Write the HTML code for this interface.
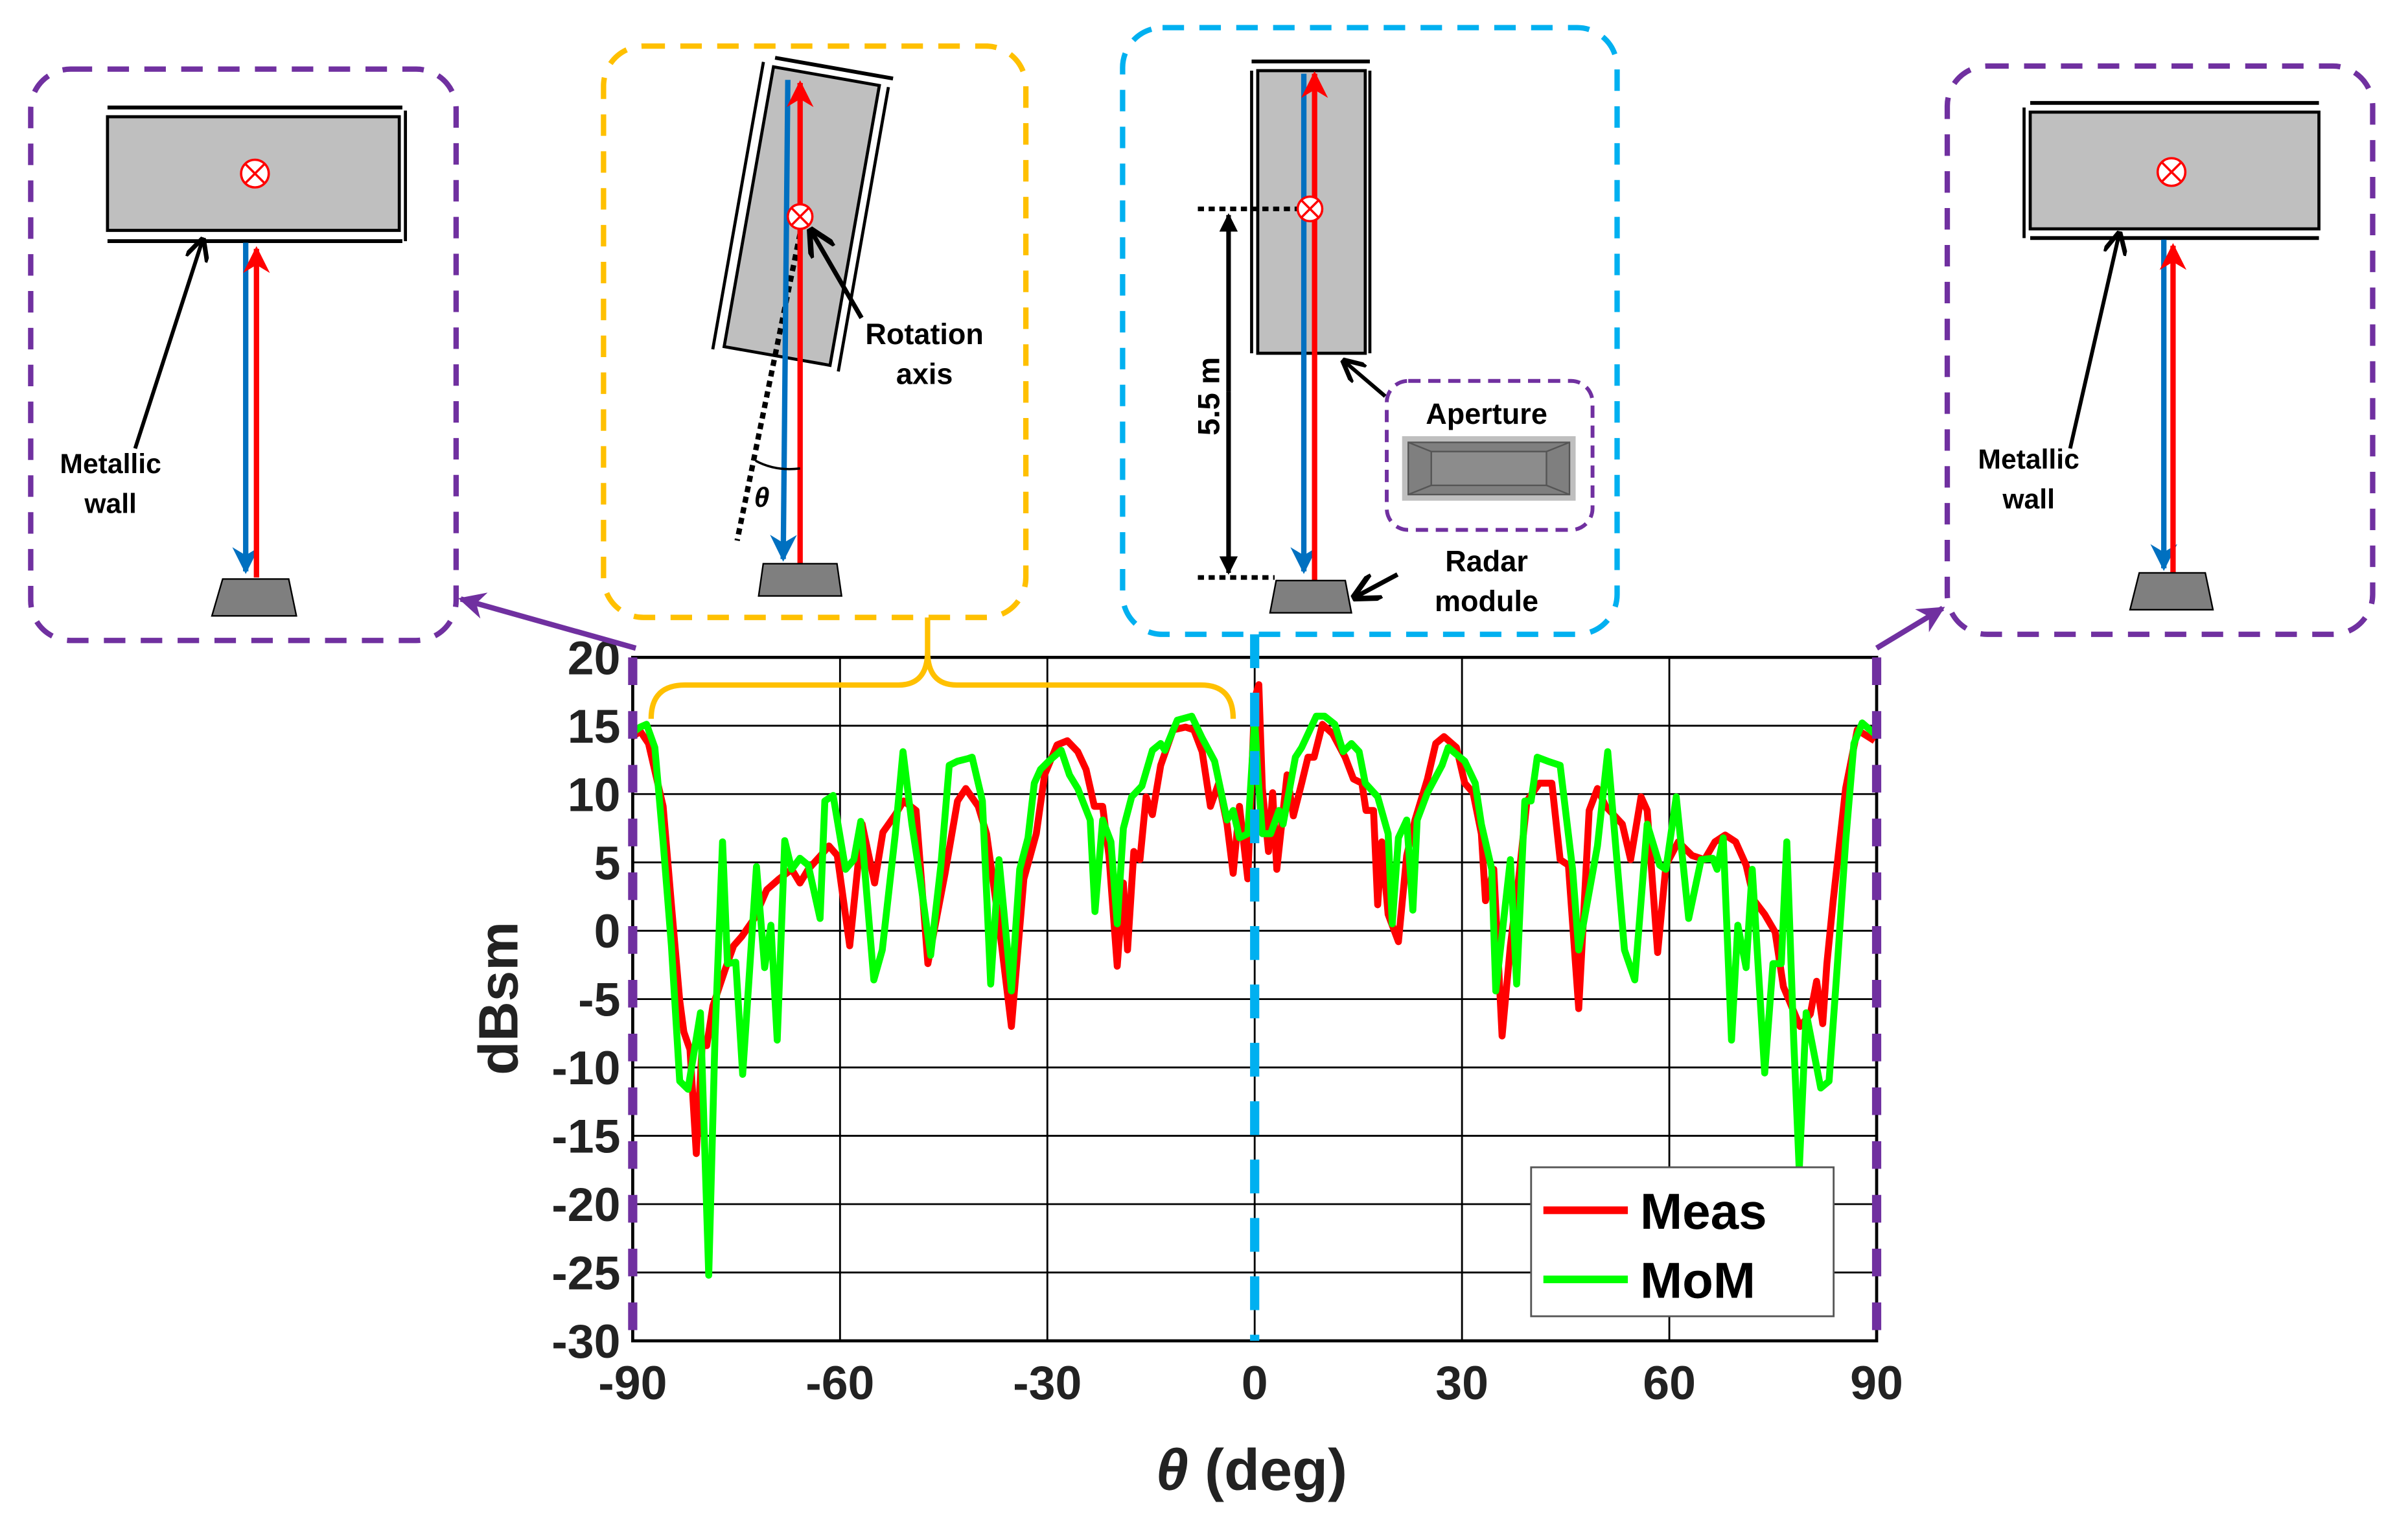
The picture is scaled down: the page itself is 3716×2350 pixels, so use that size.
<!DOCTYPE html>
<html><head><meta charset="utf-8"><style>
html,body{margin:0;padding:0;background:#fff;}
svg{display:block;}
text{font-family:"Liberation Sans",Arial,sans-serif;font-weight:bold;}
</style></head><body>
<svg id="fig" width="3716" height="2350" viewBox="0 0 1568 991.6" xmlns="http://www.w3.org/2000/svg">
<defs>
<marker id="ar" viewBox="0 0 10 10" refX="9" refY="5" markerWidth="5" markerHeight="5" orient="auto"><path d="M0,0 L10,5 L0,10 L3,5Z" fill="#ff0000"/></marker>
<marker id="ab" viewBox="0 0 10 10" refX="9" refY="5" markerWidth="5" markerHeight="5" orient="auto"><path d="M0,0 L10,5 L0,10 L3,5Z" fill="#0070c0"/></marker>
<marker id="ak" viewBox="0 0 10 10" refX="9" refY="5" markerWidth="6" markerHeight="6" orient="auto"><path d="M0,0 L10,5 L0,10" fill="none" stroke="#000" stroke-width="2"/></marker>
<marker id="akf" viewBox="0 0 10 10" refX="9" refY="5" markerWidth="4" markerHeight="4" orient="auto"><path d="M0,0 L10,5 L0,10Z" fill="#000"/></marker>
<marker id="ap" viewBox="0 0 10 10" refX="9" refY="5" markerWidth="5" markerHeight="5" orient="auto"><path d="M0,0 L10,5 L0,10 L3,5Z" fill="#7030a0"/></marker>
</defs>

<!-- Left inset -->
<g>
<rect x="20" y="45" width="277" height="372" rx="26" fill="none" stroke="#7030a0" stroke-width="3.5" stroke-dasharray="14 10"/>
<rect x="70" y="76" width="190" height="74" fill="#bfbfbf" stroke="#000" stroke-width="2"/>
<line x1="70" y1="70" x2="262" y2="70" stroke="#000" stroke-width="2.5"/>
<line x1="70" y1="157" x2="262" y2="157" stroke="#000" stroke-width="2.5"/>
<line x1="264" y1="72" x2="264" y2="157" stroke="#000" stroke-width="2"/>
<circle cx="166" cy="113" r="9" fill="#fff" stroke="#ff0000" stroke-width="1.5"/>
<path d="M160,107 L172,119 M172,107 L160,119" stroke="#ff0000" stroke-width="1.5"/>
<line x1="160" y1="158" x2="160" y2="372" stroke="#0070c0" stroke-width="3.5" marker-end="url(#ab)"/>
<line x1="167" y1="376" x2="167" y2="162" stroke="#ff0000" stroke-width="3.5" marker-end="url(#ar)"/>
<path d="M145,377 L188,377 L193,401 L138,401Z" fill="#7f7f7f" stroke="#000" stroke-width="1"/>
<line x1="88" y1="292" x2="132" y2="156" stroke="#000" stroke-width="2.5" marker-end="url(#ak)"/>
<text x="72" y="308" font-size="18" text-anchor="middle">Metallic</text>
<text x="72" y="334" font-size="18" text-anchor="middle">wall</text>
</g>

<!-- Yellow inset -->
<g>
<rect x="393" y="30" width="275" height="372" rx="26" fill="none" stroke="#ffc000" stroke-width="3.5" stroke-dasharray="14 10"/>
<g transform="rotate(10 521 141)">
<rect x="487" y="48" width="70" height="185" fill="#bfbfbf" stroke="#000" stroke-width="2"/>
<line x1="480" y1="46" x2="480" y2="236" stroke="#000" stroke-width="2"/>
<line x1="487" y1="42" x2="565" y2="42" stroke="#000" stroke-width="2.5"/>
<line x1="563" y1="48" x2="563" y2="236" stroke="#000" stroke-width="2"/>
</g>
<line x1="521" y1="152" x2="480" y2="352" stroke="#000" stroke-width="3.5" stroke-dasharray="4 3"/>
<line x1="513" y1="52" x2="510" y2="364" stroke="#0070c0" stroke-width="3.5" marker-end="url(#ab)"/>
<line x1="521" y1="368" x2="521" y2="54" stroke="#ff0000" stroke-width="3.5" marker-end="url(#ar)"/>
<circle cx="521" cy="141" r="8" fill="#fff" stroke="#ff0000" stroke-width="1.5"/>
<path d="M515.5,135.5 L526.5,146.5 M526.5,135.5 L515.5,146.5" stroke="#ff0000" stroke-width="1.5"/>
<path d="M492,300 Q505,307 521,305" fill="none" stroke="#000" stroke-width="1.5"/>
<text x="496" y="330" font-size="18" font-style="italic" font-weight="normal" font-family="Liberation Serif,serif" text-anchor="middle">θ</text>
<path d="M497,367 L545,367 L548,388 L494,388Z" fill="#7f7f7f" stroke="#000" stroke-width="1"/>
<line x1="561" y1="207" x2="528" y2="150" stroke="#000" stroke-width="3" marker-end="url(#ak)"/>
<text x="602" y="224" font-size="19" text-anchor="middle">Rotation</text>
<text x="602" y="250" font-size="19" text-anchor="middle">axis</text>
</g>

<!-- Blue inset -->
<g>
<rect x="731" y="18" width="322" height="395" rx="26" fill="none" stroke="#00b0f0" stroke-width="3.5" stroke-dasharray="14 10"/>
<rect x="819" y="46" width="70" height="184" fill="#bfbfbf" stroke="#000" stroke-width="2"/>
<line x1="815" y1="46" x2="815" y2="230" stroke="#000" stroke-width="2"/>
<line x1="892" y1="46" x2="892" y2="230" stroke="#000" stroke-width="2"/>
<line x1="815" y1="40" x2="892" y2="40" stroke="#000" stroke-width="2.5"/>
<line x1="780" y1="136" x2="846" y2="136" stroke="#000" stroke-width="3" stroke-dasharray="4 3"/>
<line x1="780" y1="376" x2="830" y2="376" stroke="#000" stroke-width="3" stroke-dasharray="4 3"/>
<line x1="800" y1="255" x2="800" y2="140" stroke="#000" stroke-width="3" marker-end="url(#akf)"/>
<line x1="800" y1="255" x2="800" y2="373" stroke="#000" stroke-width="3" marker-end="url(#akf)"/>
<text transform="translate(794,258) rotate(-90)" font-size="20" text-anchor="middle">5.5 m</text>
<line x1="849" y1="48" x2="849" y2="372" stroke="#0070c0" stroke-width="3.5" marker-end="url(#ab)"/>
<line x1="856" y1="378" x2="856" y2="48" stroke="#ff0000" stroke-width="3.5" marker-end="url(#ar)"/>
<circle cx="853" cy="136" r="8" fill="#fff" stroke="#ff0000" stroke-width="1.5"/>
<path d="M847.5,130.5 L858.5,141.5 M858.5,130.5 L847.5,141.5" stroke="#ff0000" stroke-width="1.5"/>
<path d="M831,378 L876,378 L880,399 L827,399Z" fill="#7f7f7f" stroke="#000" stroke-width="1"/>
<rect x="903" y="248" width="134" height="97" rx="14" fill="none" stroke="#7030a0" stroke-width="2.5" stroke-dasharray="8 5"/>
<text x="968" y="276" font-size="19" text-anchor="middle">Aperture</text>
<rect x="913" y="284" width="113" height="42" fill="#bfbfbf"/>
<rect x="917" y="288" width="105" height="34" fill="#7f7f7f" stroke="#555" stroke-width="1"/>
<rect x="932" y="294" width="75" height="22" fill="#8c8c8c" stroke="#555" stroke-width="1"/>
<path d="M917,288 L932,294 M1022,288 L1007,294 M917,322 L932,316 M1022,322 L1007,316" stroke="#555" stroke-width="1"/>
<line x1="902" y1="258" x2="875" y2="235" stroke="#000" stroke-width="2.5" marker-end="url(#ak)"/>
<line x1="910" y1="374" x2="882" y2="389" stroke="#000" stroke-width="3" marker-end="url(#ak)"/>
<text x="968" y="372" font-size="19" text-anchor="middle">Radar</text>
<text x="968" y="398" font-size="19" text-anchor="middle">module</text>
</g>

<!-- Right inset -->
<g>
<rect x="1268" y="43" width="277" height="370" rx="26" fill="none" stroke="#7030a0" stroke-width="3.5" stroke-dasharray="14 10"/>
<rect x="1322" y="73" width="188" height="76" fill="#bfbfbf" stroke="#000" stroke-width="2"/>
<line x1="1322" y1="67" x2="1510" y2="67" stroke="#000" stroke-width="2.5"/>
<line x1="1322" y1="155" x2="1510" y2="155" stroke="#000" stroke-width="2.5"/>
<line x1="1318" y1="70" x2="1318" y2="155" stroke="#000" stroke-width="2"/>
<circle cx="1414" cy="112" r="9" fill="#fff" stroke="#ff0000" stroke-width="1.5"/>
<path d="M1408,106 L1420,118 M1420,106 L1408,118" stroke="#ff0000" stroke-width="1.5"/>
<line x1="1409" y1="156" x2="1409" y2="370" stroke="#0070c0" stroke-width="3.5" marker-end="url(#ab)"/>
<line x1="1415" y1="374" x2="1415" y2="160" stroke="#ff0000" stroke-width="3.5" marker-end="url(#ar)"/>
<path d="M1393,373 L1436,373 L1441,397 L1387,397Z" fill="#7f7f7f" stroke="#000" stroke-width="1"/>
<line x1="1348" y1="292" x2="1380" y2="152" stroke="#000" stroke-width="2.5" marker-end="url(#ak)"/>
<text x="1321" y="305" font-size="18" text-anchor="middle">Metallic</text>
<text x="1321" y="331" font-size="18" text-anchor="middle">wall</text>
</g>

<g id="chart"></g>

<path d="M424,468 Q424,446 446,446 L585,446 Q604,446 604,424 L604,402 M604,424 Q604,446 623,446 L782,446 Q803,446 803,468" fill="none" stroke="#ffc000" stroke-width="3.5"/>
<line x1="414" y1="422" x2="300" y2="390" stroke="#7030a0" stroke-width="3.5" marker-end="url(#ap)"/>
<line x1="1222" y1="422" x2="1265" y2="396" stroke="#7030a0" stroke-width="3.5" marker-end="url(#ap)"/>
</svg>
<script>
const xTicks = [-90, -60, -30, 0, 30, 60, 90];
const yTicks = [20, 15, 10, 5, 0, -5, -10, -15, -20, -25, -30];
const measTheta = [-90,-88.9,-87.7,-85.6,-84.4,-83.2,-82.6,-81.7,-80.8,-79.9,-79.3,-78.4,-76.6,-75.4,-74.2,-72.4,-70.6,-68.8,-67,-65.8,-64.6,-62.8,-61.6,-60.4,-58.6,-56.8,-55,-53.8,-52,-50.8,-49,-47.3,-44.8,-43,-41.8,-40,-38.8,-37,-35.2,-33.4,-31.6,-30.4,-28.6,-27.1,-25.6,-24.4,-23.2,-22,-21.1,-19.9,-19,-18.4,-17.5,-16.6,-15.7,-14.8,-13.6,-11.8,-10,-8.8,-7.6,-6.4,-5.2,-4,-3.1,-2.2,-1,0,0.6,1.1,2,2.6,3.2,4.7,5.6,6.8,7.7,8.6,9.8,11.3,13.1,14.3,15.5,16.1,17.2,17.8,18.4,19.3,20.8,22,23.2,25,26.2,27.4,29.2,30.4,31.6,32.8,33.4,34.6,35.8,37,38.2,39.4,41.2,43,44.2,45.4,46.9,48.4,49.6,50.8,53.2,54.4,55.9,56.8,58.3,59.5,61.3,63.3,65.1,66.6,68.1,69.6,71.1,72.3,73.8,75.3,76.5,78.9,80.4,81.3,82.2,82.8,83.7,85.5,87.2,89.7];
const measVal = [14.2,14.6,13.7,9.1,1.9,-5.1,-7.4,-8.7,-16.3,-8,-8.4,-5.5,-2.8,-1.1,-0.4,0.9,3,3.8,4.5,3.5,4.5,5.5,6.2,5.5,-1.1,7.8,3.5,7.2,8.5,9.5,8.8,-2.4,4.2,9.5,10.4,9.1,7.1,0.5,-7,3.8,7.1,11.4,13.6,13.9,13.1,11.8,9.1,9.1,5.5,-2.6,3.5,-1.4,5.8,5.2,9.8,8.5,12.1,14.7,14.9,14.7,13.1,9.1,10.8,7.8,4.2,9.1,3.8,17,18,10.4,5.8,10.1,4.5,11.4,8.4,10.8,12.7,12.7,15.1,14.4,12.7,11.1,10.8,8.8,8.8,1.9,6.5,1.2,-0.8,5.5,8.1,11.1,13.7,14.2,13.4,10.8,10.1,7.1,2.2,4.5,-7.7,-1.1,3.8,9.5,10.8,10.8,5.2,4.8,-5.7,8.8,10.4,9.1,7.8,5.2,9.8,8.8,-1.6,4.8,6.5,5.5,5.2,6.5,7,6.5,4.8,2.2,1.2,-0.1,-4.1,-7,-6.1,-3.7,-6.8,-2.4,2.2,10.4,14.7,13.9];
const momTheta = [-90,-88.9,-88,-86.8,-85.6,-84.4,-83.2,-82,-80.2,-79,-78.1,-77,-76.3,-75.1,-74.1,-72.1,-70.9,-70,-69.1,-68,-67,-65.8,-64.6,-62.9,-62.2,-61,-59.2,-58,-57,-55.1,-53.9,-52,-50.9,-49.6,-48.4,-46.9,-45.4,-44.2,-43,-41.5,-40.9,-39.4,-38.2,-37,-35.2,-34,-32.8,-31.9,-31,-29.8,-28,-26.8,-25.6,-23.8,-23.1,-22,-20.8,-19.9,-19,-17.8,-16.3,-14.8,-13.6,-13,-11.2,-9.1,-7.6,-5.8,-4,-3.1,-2.2,-1,0,0.5,1.1,2.3,3.5,4.1,5.9,6.8,8.9,10.1,11.6,12.8,14,15.1,16,17.8,19.3,19.9,20.8,22,22.9,23.5,25,27.1,28,30.4,31.9,32.8,34.3,34.9,37,37.9,39.1,40,40.9,42.4,44.2,46,46.9,49.6,51.1,53.5,55,56.8,58.6,59.5,61,62.8,64.6,66.3,66.9,67.8,69,69.9,71.1,72,73.8,75,76.2,77,78,78.8,79.8,81.9,83.1,84.3,85.5,86.7,87.9,89.7];
const momVal = [14.5,14.9,15.1,13.4,6.5,-1.1,-11,-11.6,-6,-25.2,-7.7,6.5,-2.4,-2.3,-10.5,4.7,-2.7,0.4,-8,6.6,4.5,5.3,4.8,0.9,9.5,9.9,4.5,5.2,8,-3.6,-1.4,7.1,13.1,7.8,3.8,-1.8,4.8,12.1,12.4,12.6,12.7,9.5,-3.9,5.2,-4.4,4.5,6.8,10.8,11.8,12.4,13.2,11.4,10.4,8.1,1.4,8.1,6.5,0.5,7.5,9.8,10.6,13.2,13.7,13.2,15.4,15.7,14.1,12.4,8.1,8.8,6.8,7.1,15.4,11.1,7.1,7.1,8.8,7.8,12.7,13.4,15.7,15.7,15.1,13.1,13.7,13.1,10.8,9.8,7.1,0.5,6.8,8.1,1.5,8.1,10.1,12.1,13.4,12.4,10.8,7.8,4.5,-4.4,5.2,-3.9,9.5,9.5,12.7,12.4,12.1,4.5,-1.4,6.2,13.1,-1.4,-3.6,7.8,4.8,4.5,9.8,0.9,5.2,5.3,4.5,6.8,-8,0.4,-2.7,4.5,-10.4,-2.4,-2.4,6.5,-8,-17.5,-6,-11.5,-11,-2.7,6.5,13.7,15.2,14.4];

const X0 = 412, X1 = 1222, Y0 = 428, Y1 = 873;
const NS = 'http://www.w3.org/2000/svg';
function xs(d){ return X0 + (d + 90) / 180 * (X1 - X0); }
function ys(v){ return Y0 + (20 - v) / 50 * (Y1 - Y0); }
const g = document.getElementById('chart');
function mk(tag, attrs){ const e = document.createElementNS(NS, tag); for (const k in attrs) e.setAttribute(k, attrs[k]); g.appendChild(e); return e; }

const bg = mk('rect', {x: X0, y: Y0, width: X1 - X0, height: Y1 - Y0, fill: '#fff'});


yTicks.forEach(v => {
  const l = mk('line', {x1: X0, x2: X1, y1: ys(v), y2: ys(v), stroke: '#000', 'stroke-width': 1.2});
  
  
  const t = mk('text', {x: X0 - 8, y: ys(v) + 11, 'font-size': 31, 'text-anchor': 'end', fill: '#222'});
  t.textContent = v;
  
  
});
xTicks.forEach(d => {
  const l = mk('line', {x1: xs(d), x2: xs(d), y1: Y0, y2: Y1, stroke: '#000', 'stroke-width': 1.2});
  
  
  const t = mk('text', {x: xs(d), y: Y1 + 38, 'font-size': 31, 'text-anchor': 'middle', fill: '#222'});
  t.textContent = d;
  
  
});
const fr = mk('rect', {x: X0, y: Y0, width: X1 - X0, height: Y1 - Y0, fill: 'none', stroke: '#000', 'stroke-width': 2});



function series(th, vals, color, name){
  const p = mk('polyline', {points: th.map((d, i) => xs(d).toFixed(1) + ',' + ys(vals[i]).toFixed(1)).join(' '), fill: 'none', stroke: color, 'stroke-width': 4.5, 'stroke-linejoin': 'round'});
  
  
}
series(measTheta, measVal, '#ff0000', 'meas-line');
series(momTheta, momVal, '#00ff00', 'mom-line');

const dl = mk('line', {x1: X0, x2: X0, y1: Y0, y2: Y1, stroke: '#7030a0', 'stroke-width': 6, 'stroke-dasharray': '18 17'});


const dr = mk('line', {x1: X1, x2: X1, y1: Y0, y2: Y1, stroke: '#7030a0', 'stroke-width': 6, 'stroke-dasharray': '18 17'});


const dc = mk('line', {x1: xs(0), x2: xs(0), y1: 413, y2: Y1, stroke: '#00b0f0', 'stroke-width': 6, 'stroke-dasharray': '22 16'});



const lb = mk('rect', {x: 997, y: 760, width: 197, height: 97, fill: '#fff', stroke: '#555', 'stroke-width': 1.2});


const l1 = mk('line', {x1: 1005, x2: 1060, y1: 788, y2: 788, stroke: '#ff0000', 'stroke-width': 5});


const t1 = mk('text', {x: 1068, y: 800, 'font-size': 33});
t1.textContent = 'Meas';


const l2 = mk('line', {x1: 1005, x2: 1060, y1: 833, y2: 833, stroke: '#00ff00', 'stroke-width': 5});


const t2 = mk('text', {x: 1068, y: 845, 'font-size': 33});
t2.textContent = 'MoM';



const yl = mk('text', {transform: 'translate(337,650) rotate(-90)', 'font-size': 36, 'text-anchor': 'middle', fill: '#222'});
yl.textContent = 'dBsm';


const xl = mk('text', {x: 815, y: 970, 'font-size': 38, 'text-anchor': 'middle', fill: '#222'});
xl.innerHTML = '<tspan font-style="italic">θ</tspan> (deg)';


</script>
</body></html>
